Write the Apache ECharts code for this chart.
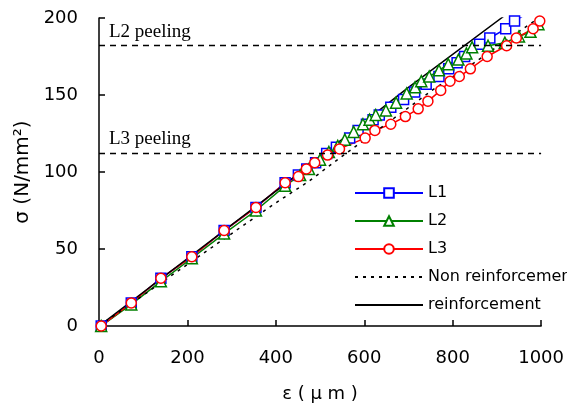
<!DOCTYPE html>
<html lang="en">
<head>
  <meta charset="UTF-8">
  <title>peeling</title>
  <script src="https://cdn.jsdelivr.net/npm/echarts@6/dist/echarts.min.js"></script>
  <style>
    html,body{margin:0;padding:0;background:#fff}
    #main{width:567px;height:408px}
  </style>
</head>
<body>
<div id="main"></div>
<script>
    // strain (um), stress (N/mm2)
    var l1 = [[5,0],[73,15],[140,31],[210,45],[283,62],[355,77],[421,93],[451,98],[470,102],[490,106],[515,112],[537,116],[567,122],[586,127],[605,131],[620,134],[634,137],[660,142],[689,147],[714,152],[740,157],[769,162],[791,167],[810,171],[827,175],[861,183],[884,187],[920,193],[940,198],[968,203]];
    var l2 = [[5,0],[73,14],[140,29],[210,44],[283,60],[355,75],[421,91],[455,98],[475,102],[500,108],[520,113],[540,117],[556,121],[576,126],[597,131],[612,134],[626,137],[649,140],[672,145],[696,151],[715,155],[729,159],[747,162],[769,166],[790,170],[813,173],[831,177],[844,181],[880,182],[918,184],[950,188],[976,191],[994,196],[1005,200]];
    var l3 = [[5,0],[73,15],[140,31],[210,45],[283,62],[355,77],[421,93],[451,97],[469,102],[488,106],[517,111],[544,115],[602,122],[624,127],[660,131],[693,136],[722,141],[744,146],[773,153],[794,159],[815,162],[840,167],[878,175],[922,182],[944,187],[982,193],[997,198]];
    var nonReinf = [[0,0],[395,79],[475,94],[544,109],[758,154],[849,171],[954,192],[1000,201]];
    var reinf = [[0,0],[420,92],[700,155],[915,201]];
    var peelL2 = 182;
    var peelL3 = 112.5;

    var chart = echarts.init(document.getElementById('main'));

    var tick = {fontFamily:'DejaVu Sans',fontSize:18,color:'#000'};

    chart.setOption({
      animation:false,
      grid:{left:99,right:10,top:18,bottom:81},
      legend:{
        orient:'vertical',left:349,top:180,
        itemWidth:68,itemHeight:12,itemGap:12,
        textStyle:{fontFamily:'DejaVu Sans',fontSize:16,color:'#000'},
        data:['L1','L2','L3',
          {name:'Non reinforcement',itemStyle:{opacity:0}},
          {name:'reinforcement',itemStyle:{opacity:0}}]
      },
      xAxis:{
        type:'value',min:0,max:1000,interval:200,
        name:'ε ( μ m )',nameLocation:'middle',nameGap:59,
        nameTextStyle:{fontFamily:'DejaVu Sans',fontSize:18,color:'#000'},
        axisLine:{lineStyle:{color:'#000',width:1.5}},
        axisTick:{inside:true,length:6,lineStyle:{color:'#000',width:1.5}},
        axisLabel:Object.assign({margin:23,formatter:function(v){return String(v)}},tick),
        splitLine:{show:false}
      },
      yAxis:{
        type:'value',min:0,max:200,interval:50,
        name:'σ (N/mm²)',nameLocation:'middle',nameGap:66,
        nameTextStyle:{fontFamily:'DejaVu Sans',fontSize:20,color:'#000'},
        axisLine:{show:true,lineStyle:{color:'#000',width:1.5}},
        axisTick:{show:true,inside:true,length:6,lineStyle:{color:'#000',width:1.5}},
        axisLabel:Object.assign({margin:21},tick),
        splitLine:{show:false}
      },
      series:[
        {
          name:'L1',type:'line',data:l1,
          symbol:'rect',symbolSize:10,
          lineStyle:{color:'#0000ff',width:1.5},
          itemStyle:{color:'#fff',borderColor:'#0000ff',borderWidth:1.5},
          markLine:{
            silent:true,symbol:'none',
            lineStyle:{color:'#000',type:[6,5],width:1.3},
            label:{position:'insideStartTop',distance:[10,4],fontFamily:'Liberation Serif',fontSize:19,color:'#000',
              formatter:function(p){return p.name}},
            data:[{name:'L2 peeling',yAxis:peelL2},{name:'L3 peeling',yAxis:peelL3}]
          }
        },
        {
          name:'L2',type:'line',data:l2,
          symbol:'triangle',symbolSize:11,
          lineStyle:{color:'#008000',width:1.5},
          itemStyle:{color:'#fff',borderColor:'#008000',borderWidth:1.5}
        },
        {
          name:'L3',type:'line',data:l3,
          symbol:'circle',symbolSize:10,
          lineStyle:{color:'#ff0000',width:1.5},
          itemStyle:{color:'#fff',borderColor:'#ff0000',borderWidth:1.5}
        },
        {
          name:'Non reinforcement',type:'line',data:nonReinf,
          symbol:'none',
          lineStyle:{color:'#000',width:1.5,type:[3,5]},
          itemStyle:{color:'#000'}
        },
        {
          name:'reinforcement',type:'line',data:reinf,
          symbol:'none',
          lineStyle:{color:'#000',width:1.5},
          itemStyle:{color:'#000'}
        }
      ]
    });
</script>
</body>
</html>
